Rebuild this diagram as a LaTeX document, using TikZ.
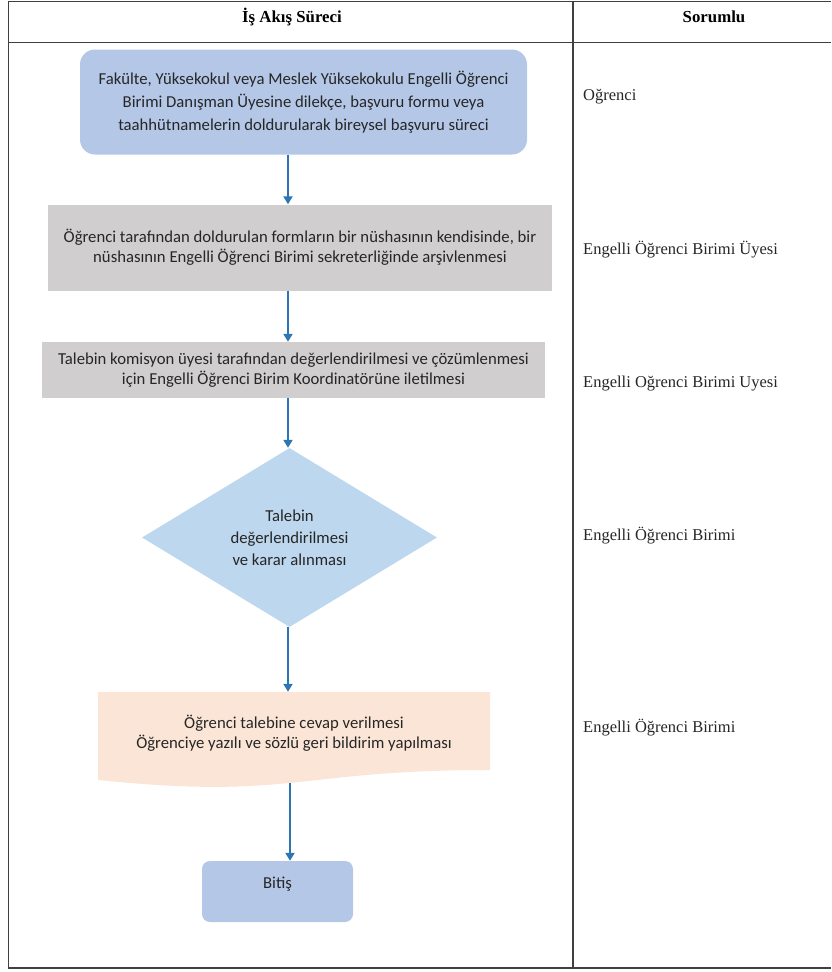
\documentclass[tikz,border=0pt]{standalone}
\usepackage{fontspec}
\setmainfont{Liberation Serif}
\newfontfamily\calfont{Carlito}
\usetikzlibrary{arrows.meta,shapes.geometric}
\definecolor{bluebox}{HTML}{B4C7E7}
\definecolor{graybox}{HTML}{D0CECE}
\definecolor{diamfill}{HTML}{BDD7EE}
\definecolor{docfill}{HTML}{FBE5D6}
\definecolor{arrblue}{HTML}{2E75B6}
\definecolor{gridline}{HTML}{404040}
\definecolor{txt}{HTML}{262626}
\tikzset{
  x=1pt, y=-1pt,
  grid/.style={draw=gridline, line width=1.5pt},
  flowtext/.style={font=\calfont\fontsize{16.7}{20}\selectfont, text=txt, align=center},
  roundbox/.style={flowtext, fill=bluebox, rounded corners=15pt, inner sep=0pt},
  graystep/.style={flowtext, fill=graybox, inner sep=0pt},
  decision/.style={flowtext, diamond, fill=diamfill, inner sep=0pt, aspect=1.65},
  endbox/.style={flowtext, fill=bluebox, rounded corners=8pt, inner sep=0pt},
  arr/.style={draw=arrblue, line width=2pt, -{Triangle[width=9pt,length=8pt]}},
  resp/.style={font=\fontsize{16.5}{20}\selectfont, text=txt, anchor=base west, inner sep=0pt},
  head/.style={font=\bfseries\fontsize{16.8}{20}\selectfont, text=black, anchor=base, inner sep=0pt},
}
\begin{document}
\begin{tikzpicture}
\useasboundingbox (0,0) rectangle (831,972);
% table
\draw[grid] (8,1.5) -- (831,1.5);
\draw[grid] (8,42.5) -- (831,42.5);
\draw[grid] (8.5,1) -- (8.5,968.5);
\draw[grid] (573,1) -- (573,968.5);
\draw[grid] (8,968) -- (831,968);
\node[head] (h1) at (292,22) {İş Akış Süreci};
\node[head] (h2) at (714,22) {Sorumlu};
% flow
\coordinate (ax) at (288,0);
\coordinate (bx) at (290,0);
\node[roundbox, minimum width=447pt, minimum height=105pt, font=\calfont\fontsize{16.7}{22.8}\selectfont] (b1) at (303.5,102)
  {Fakülte, Yüksekokul veya Meslek Yüksekokulu Engelli Öğrenci\\Birimi Danışman Üyesine dilekçe, başvuru formu veya\\taahhütnamelerin doldurularak bireysel başvuru süreci};
\node[graystep, minimum width=504pt, minimum height=86pt] (b2) at (300,247.5)
  {Öğrenci tarafından doldurulan formların bir nüshasının kendisinde, bir\\nüshasının Engelli Öğrenci Birimi sekreterliğinde arşivlenmesi};
\node[graystep, minimum width=503pt, minimum height=56pt] (b3) at (293.5,370)
  {Talebin komisyon üyesi tarafından değerlendirilmesi ve çözümlenmesi\\için Engelli Öğrenci Birim Koordinatörüne iletilmesi};
\node[decision, minimum width=295pt, minimum height=179pt, font=\calfont\fontsize{16.7}{22}\selectfont] (d) at (289.5,537.5)
  {Talebin\\değerlendirilmesi\\ve karar alınması};
\fill[docfill] (98,692) -- (490,692) -- (490,770) .. controls (294,770) and (294,800) .. (98,780) -- cycle;
\node[flowtext, minimum width=392pt, minimum height=82pt, inner sep=0pt] (doc) at (294,733)
  {Öğrenci talebine cevap verilmesi\\Öğrenciye yazılı ve sözlü geri bildirim yapılması};
\coordinate (docb) at (290,783);
\node[endbox, minimum width=151pt, minimum height=61pt] (end) at (277.5,891.5) {\raisebox{17pt}{Bitiş}};
% connectors
\draw[arr] (b1.south -| ax) -- (b2.north -| ax);
\draw[arr] (b2.south -| ax) -- (b3.north -| ax);
\draw[arr] (b3.south -| ax) -- (d.north -| ax);
\draw[arr] (d.south -| ax) -- (doc.north -| ax);
\draw[arr] (docb) -- (end.north -| bx);
% responsibilities
\node[resp] (r1) at (583,100) {Oğrenci};
\node[resp] (r2) at (583,254) {Engelli Öğrenci Birimi Üyesi};
\node[resp] (r3) at (583,387) {Engelli Oğrenci Birimi Uyesi};
\node[resp] (r4) at (583,540) {Engelli Öğrenci Birimi};
\node[resp] (r5) at (583,732) {Engelli Öğrenci Birimi};
\end{tikzpicture}
\end{document}
